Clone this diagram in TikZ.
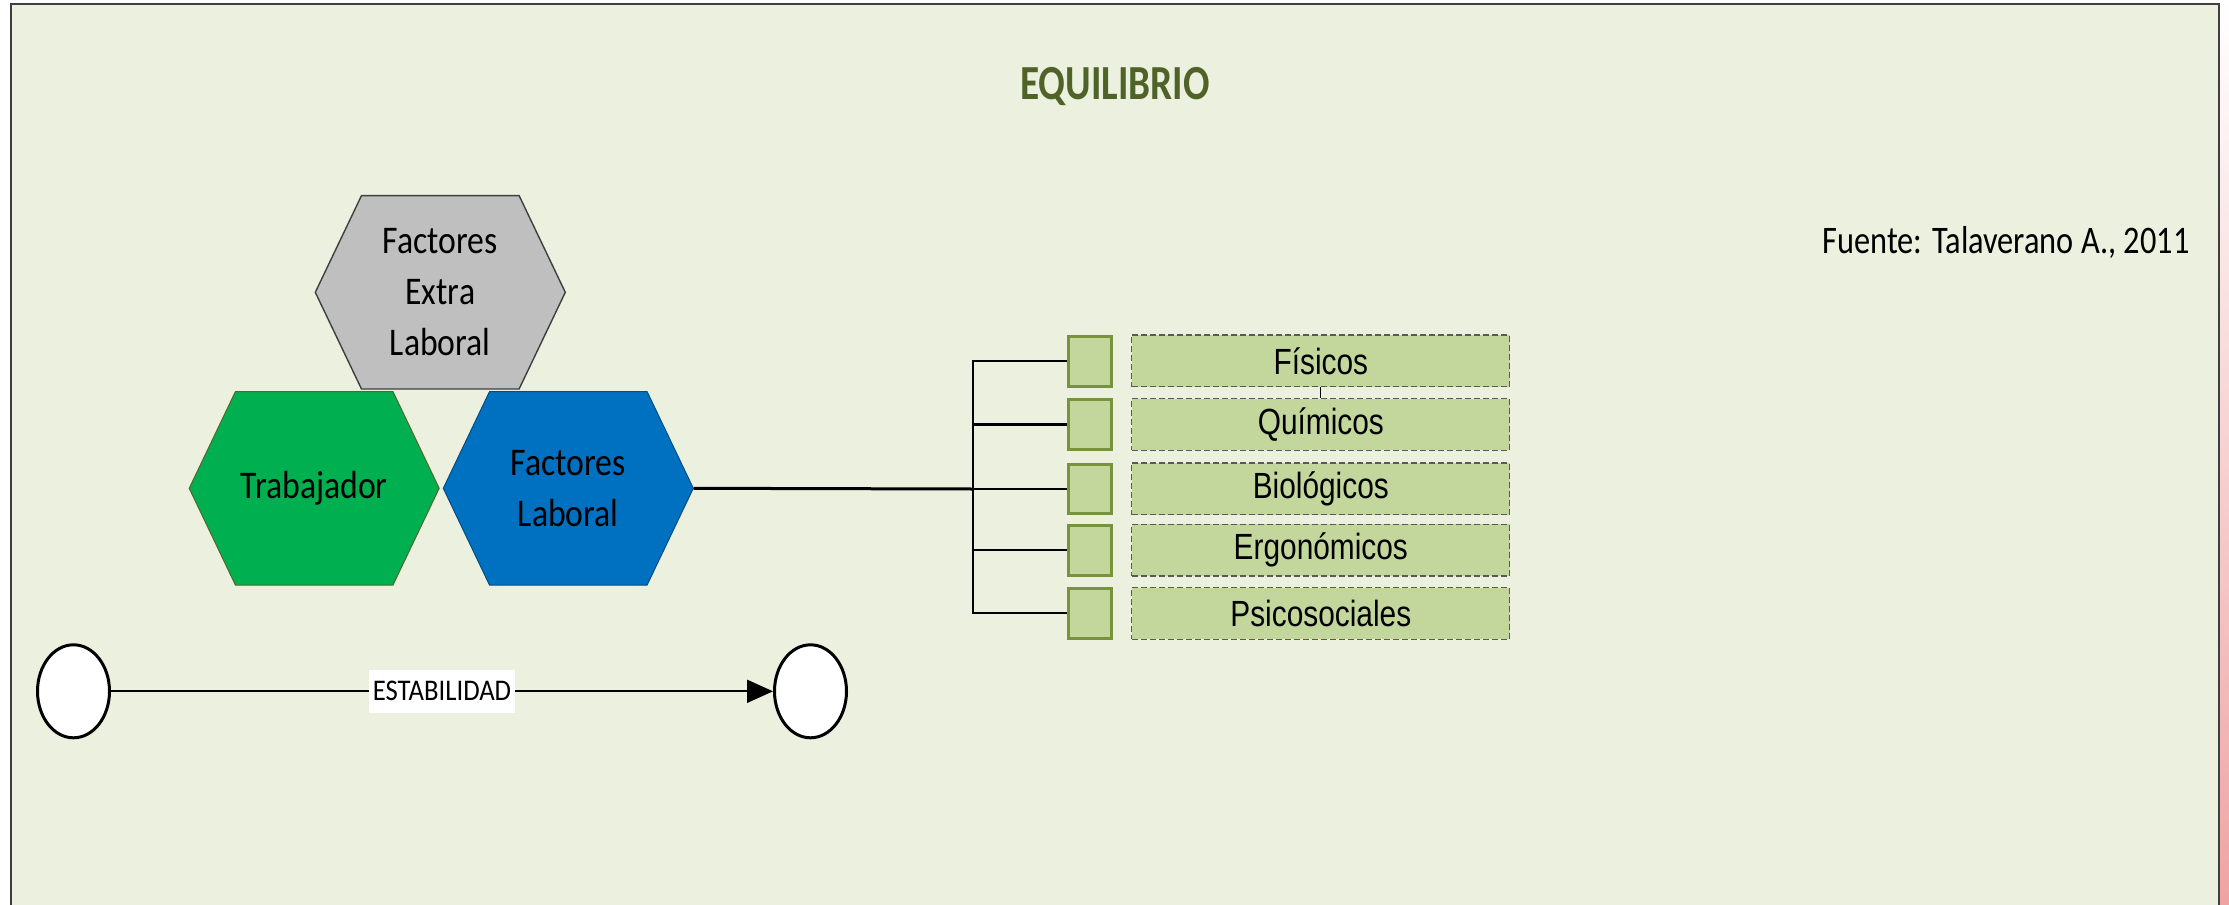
\documentclass[tikz,border=0pt]{standalone}
\usepackage{fontspec}
\setmainfont{Carlito}
\newfontfamily\hexfont[FakeStretch=0.86]{Carlito}
\newfontfamily\srcfont[FakeStretch=0.83]{Carlito}
\newfontfamily\titfont[FakeStretch=0.8]{Carlito}
\newfontfamily\boxfont[FakeStretch=0.82]{Liberation Sans}
\newfontfamily\estfont[FakeStretch=0.89]{Carlito}
\usetikzlibrary{shapes.geometric,arrows.meta}
\definecolor{bgc}{HTML}{EBF1DE}
\definecolor{framec}{HTML}{3F3F3F}
\definecolor{titc}{HTML}{4F6228}
\definecolor{hexgray}{HTML}{BFBFBF}
\definecolor{hexgreen}{HTML}{00B050}
\definecolor{hexblue}{HTML}{0070C0}
\definecolor{sqfill}{HTML}{C3D69B}
\definecolor{sqdraw}{HTML}{77933C}
\definecolor{dashc}{HTML}{595959}
\definecolor{pinkc}{HTML}{EFA3A3}
\tikzset{
  hexpic/.pic={\path[pic actions] (-125,0) -- (-78.8,-96.7) -- (78.8,-96.7) -- (125,0) -- (78.8,96.7) -- (-78.8,96.7) -- cycle;},
  hextext/.style={minimum width=125pt, minimum height=96.7pt, inner sep=0pt, align=center,
    font=\hexfont\fontsize{19.6}{25.5}\selectfont, text=black},
  sqbox/.style={draw=sqdraw, fill=sqfill, line width=1.6pt, minimum width=21.8pt, minimum height=24.8pt, inner sep=0pt},
  dbox/.style={draw=dashc, fill=sqfill, line width=0.6pt, dash pattern=on 3pt off 1.5pt,
    minimum width=189pt, minimum height=25.8pt, inner sep=0pt, font=\boxfont\fontsize{18.2}{20}\selectfont},
  conn/.style={line width=1.1pt, black},
  circ/.style={ellipse, draw=black, fill=white, line width=1.5pt, minimum width=36pt, minimum height=46.5pt, inner sep=0pt},
}
\begin{document}
\begin{tikzpicture}[x=0.5pt, y=-0.5pt]
\useasboundingbox (0,0) rectangle (2229,905);
% page and frame
\fill[white] (0,0) rectangle (2229,905);
\shade[top color=white, bottom color=pinkc] (2220,0) rectangle (2229,905);
\fill[bgc] (11,3.5) rectangle (2219,910);
\draw[framec, line width=1pt] (11,915) -- (11,3.5) -- (2219,3.5) -- (2219,915);

% title and source
\node[font=\titfont\bfseries\fontsize{24.5}{28}\selectfont, text=titc] (title) at (1115,87) {EQUILIBRIO};
\node[font=\srcfont\fontsize{19.5}{23}\selectfont] (fuente) at (2006,242) {Fuente: Talaverano A., 2011};

% hexagons
\pic[fill=hexgray, draw=framec, line width=0.7pt] at (440.3,292.3) {hexpic};
\pic[fill=hexgreen, draw=sqdraw!70!black, line width=0.5pt] at (314.2,488.3) {hexpic};
\pic[fill=hexblue, draw=hexblue!70!black, line width=0.5pt] at (568.3,488.3) {hexpic};
\node[hextext] (ext) at (440.3,292.3) {Factores\\Extra\\Laboral};
\node[hextext] (trab) at (314.2,488.3) {Trabajador};
\node[hextext] (lab) at (568.3,488.3) {Factores\\Laboral};

% squares and dashed boxes
\node[sqbox] (s1) at (1090,361.3) {};
\node[sqbox] (s2) at (1090,424.5) {};
\node[sqbox] (s3) at (1090,489) {};
\node[sqbox] (s4) at (1090,550.3) {};
\node[sqbox] (s5) at (1090,613.3) {};
\node[dbox] (b1) at (1320.8,360.8) {Físicos};
\node[dbox] (b2) at (1320.8,424.5) {Químicos};
\node[dbox] (b3) at (1320.8,488.8) {Biológicos};
\node[dbox] (b4) at (1320.8,550.2) {Ergonómicos};
\node[dbox] (b5) at (1320.8,613.5) {Psicosociales};
\draw[line width=0.6pt, black] (b1.south) -- (b2.north);

% tree connector
\coordinate (j) at (973.3,489);
\draw[conn, line width=1.5pt] (lab.east) -- (j);
\draw[conn] (j) -- (s3.west);
\draw[conn] (s1.west) -| (j) |- (s5.west);
\draw[conn] (j) |- (s2.west);
\draw[conn] (j) |- (s4.west);

% stability arrow
\node[circ] (e1) at (73.5,691.3) {};
\node[circ] (e2) at (810.5,691.3) {};
\draw[line width=1pt, -{Triangle[length=13pt, width=11.5pt]}] (e1) -- node[fill=white, minimum width=73pt, minimum height=21.3pt, inner sep=0pt, font=\estfont\fontsize{15}{17}\selectfont] (est) {ESTABILIDAD} (e2);
\end{tikzpicture}
\end{document}
